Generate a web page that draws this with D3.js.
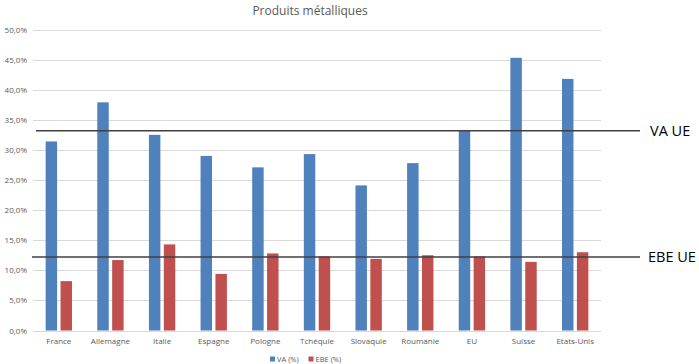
<!DOCTYPE html>
<html><head><meta charset="utf-8">
<script src="https://cdn.jsdelivr.net/npm/d3@7"></script>
<style>body{margin:0;background:#fff}svg{display:block}text{font-family:"Open Sans",sans-serif}</style>
</head><body>
<script>
const categories = ["France","Allemagne","Italie","Espagne","Pologne","Tchéquie","Slovaquie","Roumanie","EU","Suisse","Etats-Unis"];
const vaValues  = [31.4,37.9,32.5,29.0,27.1,29.3,24.1,27.8,33.3,45.3,41.8];
const ebeValues = [8.2,11.7,14.3,9.4,12.8,12.3,11.9,12.5,12.3,11.4,13.0];
const seriesNames = ["VA (%)","EBE (%)"];
const yTicks = [0,5,10,15,20,25,30,35,40,45,50];
const refNames = ["VA UE","EBE UE"];
const refValues = [33.2,12.2];
const title = "Produits métalliques";

const W = 699, H = 364;
const svg = d3.select("body").append("svg").attr("width",W).attr("height",H);
const colors = ["#4f81bd","#c0504d"];

const y = d3.scaleLinear().domain([0,50]).range([330.5,29.5]);
const x0 = d3.scaleBand().domain(categories).range([33,601]).paddingInner(0.49).paddingOuter(0.245);
const x1 = d3.scaleBand().domain(seriesNames).range([0,x0.bandwidth()]).paddingInner(0.23);

// gridlines
svg.append("g").selectAll("line").data(yTicks).join("line")
  .attr("x1",33).attr("x2",601).attr("y1",d=>Math.round(y(d))+0.5).attr("y2",d=>Math.round(y(d))+0.5)
  .attr("stroke","#d9d9d9").attr("stroke-width",1);

// y labels
const yAxis = d3.axisLeft(y).tickValues(yTicks).tickSize(0).tickPadding(0)
  .tickFormat(d=>d3.format(".1f")(d).replace(".",",")+"%");
const ga = svg.append("g").attr("transform","translate(27,0)").call(yAxis);
ga.select(".domain").remove();
ga.selectAll("text").attr("fill","#595959").style("font-size","8px").style("font-family","Open Sans");

// bars
const data = categories.map((c,i)=>({c, vals:[vaValues[i],ebeValues[i]]}));
const g = svg.append("g").selectAll("g").data(data).join("g")
  .attr("transform",d=>`translate(${x0(d.c)},0)`);
g.selectAll("rect").data(d=>d.vals.map((v,j)=>({s:seriesNames[j],v,j}))).join("rect")
  .attr("x",d=>x1(d.s)).attr("width",x1.bandwidth())
  .attr("y",d=>y(d.v)).attr("height",d=>y(0)-y(d.v))
  .attr("fill",d=>colors[d.j]);

// x labels
const xAxis = d3.axisBottom(x0).tickSize(0).tickPadding(0);
const gx = svg.append("g").attr("transform","translate(0,338)").call(xAxis);
gx.select(".domain").remove();
gx.selectAll("text").attr("fill","#595959").style("font-size","8px").style("font-family","Open Sans");

// reference lines
svg.append("g").selectAll("line").data(refValues).join("line")
  .attr("x1",(d,i)=>i===0?36:32).attr("x2",640)
  .attr("y1",d=>y(d)).attr("y2",d=>y(d))
  .attr("stroke","#404040").attr("stroke-width",1.5);
svg.append("g").selectAll("text").data(refNames).join("text")
  .attr("x",(d,i)=>i===0?650:648).attr("y",(d,i)=>y(refValues[i])+5)
  .attr("fill","#000").style("font-size","14.5px").text(d=>d);

// title
svg.append("text").attr("x",310).attr("y",15).attr("text-anchor","middle")
  .attr("fill","#595959").style("font-size","12px").text(title);

// legend
const lg = svg.append("g");
const lx = [270,308.5];
seriesNames.forEach((s,i)=>{
  lg.append("rect").attr("x",lx[i]).attr("y",356.5).attr("width",5).attr("height",5).attr("fill",colors[i]);
  lg.append("text").attr("x",lx[i]+7).attr("y",362).attr("fill","#595959").style("font-size","7.5px").text(s);
});
</script>
</body></html>
